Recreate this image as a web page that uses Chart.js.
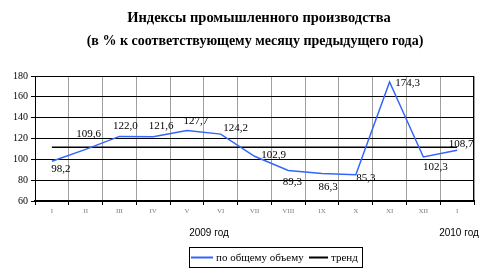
<!DOCTYPE html>
<html>
<head>
<meta charset="utf-8">
<script src="https://cdn.jsdelivr.net/npm/chart.js@4.4.0/dist/chart.umd.min.js"></script>
<style>
  html, body { margin: 0; padding: 0; background: #fff; }
  canvas { display: block; }
</style>
</head>
<body>
<canvas id="chart" width="502" height="278"></canvas>
<script>
// Data
const months = ["I", "II", "III", "IV", "V", "VI", "VII", "VIII", "IX", "X", "XI", "XII", "I"];
const totalVolume = [98.2, 109.6, 122.0, 121.6, 127.7, 124.2, 102.9, 89.3, 86.3, 85.3, 174.3, 102.3, 108.7];
const trend = [111.7, 111.7, 111.7, 111.7, 111.7, 111.7, 111.7, 111.7, 111.7, 111.7, 111.7, 111.7, 111.7];
const yTicks = [60, 80, 100, 120, 140, 160, 180];
const titleLines = ["Индексы промышленного производства", "(в % к соответствующему месяцу предыдущего года)"];
const yearLabels = ["2009 год", "2010 год"];
const seriesNames = ["по общему объему", "тренд"];

const blue = '#3366ff';

// where each value label sits relative to its point (px)
const labelOffsets = [[9, 8], [3, -15], [6, -10], [8, -11], [9, -9], [15, -6], [19, -1],
  [4, 12], [6, 14], [10, 3], [18, 1], [12, 10], [4, -6]];

const extras = {
  id: 'extras',
  afterDatasetsDraw(chart) {
    const ctx = chart.ctx;
    const area = chart.chartArea;
    const meta = chart.getDatasetMeta(0);
    ctx.save();

    // right border of plot
    ctx.strokeStyle = '#000';
    ctx.lineWidth = 1;
    ctx.beginPath();
    ctx.moveTo(area.right - 0.5, area.top);
    ctx.lineTo(area.right - 0.5, area.bottom);
    ctx.stroke();

    // value labels
    ctx.fillStyle = '#000';
    ctx.font = '11px "Liberation Serif"';
    ctx.textAlign = 'center';
    ctx.textBaseline = 'middle';
    meta.data.forEach((pt, i) => {
      const txt = totalVolume[i].toFixed(1).replace('.', ',');
      ctx.fillText(txt, pt.x + labelOffsets[i][0], pt.y + labelOffsets[i][1]);
    });

    // title
    ctx.font = 'bold 14.5px "Liberation Serif"';
    ctx.fillText(titleLines[0], 259, 18);
    ctx.font = 'bold 14px "Liberation Serif"';
    ctx.fillText(titleLines[1], 255, 41);

    // year captions
    ctx.font = '10px "Liberation Sans"';
    ctx.fillText(yearLabels[0], 209, 233);
    ctx.fillText(yearLabels[1], 459, 233);

    // legend
    ctx.strokeStyle = '#000';
    ctx.lineWidth = 1;
    ctx.strokeRect(189.5, 247.5, 173, 20);
    ctx.lineWidth = 2;
    ctx.strokeStyle = blue;
    ctx.beginPath(); ctx.moveTo(191, 257.5); ctx.lineTo(213, 257.5); ctx.stroke();
    ctx.strokeStyle = '#000';
    ctx.beginPath(); ctx.moveTo(309, 257.5); ctx.lineTo(328, 257.5); ctx.stroke();
    ctx.font = '11px "Liberation Serif"';
    ctx.textAlign = 'left';
    ctx.fillText(seriesNames[0], 216, 258);
    ctx.fillText(seriesNames[1], 331, 258);
    ctx.restore();
  }
};

const ctx = document.getElementById('chart').getContext('2d');
new Chart(ctx, {
  type: 'line',
  data: {
    labels: months,
    datasets: [{
      label: seriesNames[0],
      data: totalVolume,
      borderColor: blue,
      borderWidth: 1.5,
      pointRadius: 0,
      tension: 0,
      order: 0
    }, {
      label: seriesNames[1],
      data: trend,
      borderColor: '#000',
      borderWidth: 1.5,
      pointRadius: 0,
      order: 1
    }]
  },
  options: {
    responsive: false,
    animation: false,
    devicePixelRatio: 1,
    layout: { padding: { top: 76, right: 28, left: 0, bottom: 0 } },
    plugins: {
      legend: { display: false },
      tooltip: { enabled: false }
    },
    scales: {
      x: {
        offset: true,
        grid: { offset: true, color: '#a0a0a0', lineWidth: 1, tickColor: '#000', tickLength: 4 },
        border: { color: '#000', width: 2 },
        ticks: { color: '#808080', font: { family: 'Liberation Serif', size: 7 }, maxRotation: 0, padding: 2 },
        afterFit(s) { s.height = 77; }
      },
      y: {
        min: 60,
        max: 180,
        afterBuildTicks(s) { s.ticks = yTicks.map(v => ({ value: v })); },
        grid: { color: '#000', tickLength: 4 },
        border: { color: '#000', width: 1 },
        ticks: { color: '#000', font: { family: '"Liberation Sans Narrow", "Liberation Serif"', size: 10 }, padding: 3 },
        afterFit(s) { s.width = 35; }
      }
    }
  },
  plugins: [extras]
});
</script>
</body>
</html>
